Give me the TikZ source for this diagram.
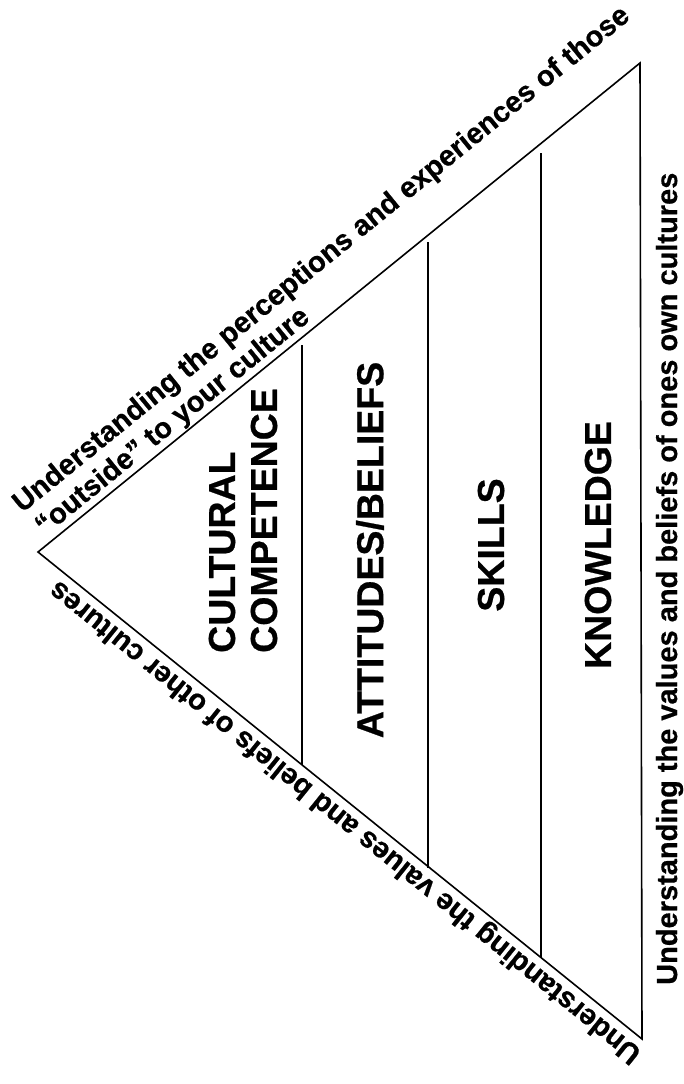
\documentclass[tikz,border=0pt]{standalone}
\usepackage{fontspec}
\setmainfont{Liberation Sans}[BoldFeatures={FakeBold=0.6}]
\usetikzlibrary{calc}
\tikzset{
  outline/.style={line width=1.6pt, line join=miter},
  divider/.style={line width=1.1pt},
  band/.style={font=\fontsize{37.5}{42}\selectfont\bfseries, rotate=90, align=center, inner sep=0pt},
  side/.style={font=\fontsize{29}{34}\selectfont\bfseries, inner sep=0pt},
}
\begin{document}
\begin{tikzpicture}[x=1pt,y=-1pt]
\useasboundingbox (0,0) rectangle (684,1084);
\fill[white] (0,0) rectangle (684,1084);

% triangle: apex on the left, base on the right
\coordinate (A) at (38,552);
\coordinate (T) at (640,63);
\coordinate (B) at (642,1039);
\draw[outline] (A) -- (T) -- (B) -- cycle;

% vertical dividers between the bands
\coordinate (d1t) at (302,345);
\coordinate (d1b) at (302,765);
\coordinate (d2t) at (428,242);
\coordinate (d2b) at (428,868);
\coordinate (d3t) at (541,153);
\coordinate (d3b) at (541,958);
\draw[divider] (d1t) -- (d1b);
\draw[divider] (d2t) -- (d2b);
\draw[divider] (d3t) -- (d3b);

% band labels
\node[band, align=left, anchor=west] (cc) at (243,653) {CULTURAL\\COMPETENCE};
\node[band] (att) at (370,550) {ATTITUDES/BELIEFS};
\node[band] (sk) at (491,545) {SKILLS};
\node[band] (kn) at (598,545) {KNOWLEDGE};

% text along the upper edge
\path let \p1=($(T)-(A)$), \n1={atan2(\y1,\x1)} in
  node[side, rotate=\n1, anchor=base west] (top1) at ($(A)!12pt!(T)!40pt!90:(T)$)
    {Understanding the perceptions and experiences of those}
  node[side, rotate=\n1, anchor=base west] (top2) at ($(A)!15pt!(T)!8pt!90:(T)$)
    {“outside” to your culture};

% text along the lower edge, read from the base toward the apex
\path let \p1=($(A)-(B)$), \n1={atan2(\y1,\x1)} in
  node[side, rotate=\n1, anchor=base east] (bot) at ($(A)!33pt!(B)!9pt!-90:(B)$)
    {Understanding the values and beliefs of other cultures};

% text beside the base
\node[side, rotate=90, anchor=base west] (base) at (677,985)
  {Understanding the values and beliefs of ones own cultures};
\end{tikzpicture}
\end{document}
